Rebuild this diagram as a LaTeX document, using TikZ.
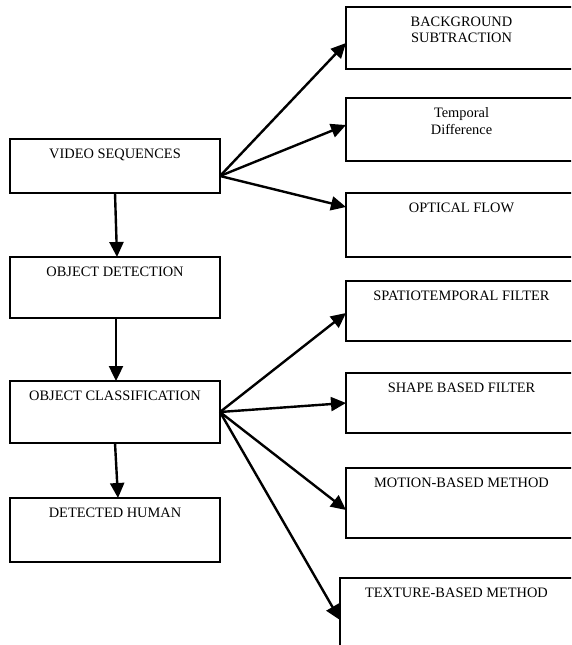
\documentclass[tikz,border=0pt]{standalone}
\usepackage{fontspec}
\setmainfont{Liberation Serif}
\usetikzlibrary{arrows.meta}
\begin{document}
\begin{tikzpicture}[x=1pt,y=-1pt,
  box/.style={draw, line width=1.8pt, inner sep=0pt, outer sep=0pt, anchor=north west},
  leftbox/.style={box, minimum width=210pt},
  rightbox/.style={box, minimum width=231pt},
  lbl/.style={anchor=north, inner sep=0pt, yshift=-9.5pt, align=center,
    font=\fontsize{14.4}{16.5}\selectfont},
  arr/.style={line width=2.4pt, -{Triangle[length=15pt,width=14pt]}}]
\useasboundingbox (0,0) rectangle (571,645);
\clip (0,0) rectangle (571,645);

% main chain on the left
\node[leftbox, minimum height=54pt, label={[lbl]north:VIDEO SEQUENCES}] (vs) at (10,139) {};
\node[leftbox, minimum height=61pt, label={[lbl]north:OBJECT DETECTION}] (od) at (10,257) {};
\node[leftbox, minimum height=62pt, label={[lbl]north:OBJECT CLASSIFICATION}] (oc) at (10,381) {};
\node[leftbox, minimum height=64pt, label={[lbl]north:DETECTED HUMAN}] (dh) at (10,498) {};

% detection methods
\node[rightbox, minimum height=62pt, label={[lbl]north:BACKGROUND\\SUBTRACTION}] (bg) at (346,7) {};
\node[rightbox, minimum height=63pt, label={[lbl]north:Temporal\\Difference}] (td) at (346,98) {};
\node[rightbox, minimum height=64pt, label={[lbl]north:OPTICAL FLOW}] (of) at (346,193) {};

% classification methods
\node[rightbox, minimum height=60pt, label={[lbl]north:SPATIOTEMPORAL FILTER}] (st) at (346,281) {};
\node[rightbox, minimum height=60pt, label={[lbl]north:SHAPE BASED FILTER}] (sb) at (346,373) {};
\node[rightbox, minimum height=70pt, label={[lbl]north:MOTION-BASED METHOD}] (mb) at (346,468) {};
\node[box, minimum width=233pt, minimum height=70pt, label={[lbl]north:TEXTURE-BASED METHOD}] (tx) at (340,578) {};

% connectors
\coordinate (vsout) at ([yshift=-10pt]vs.east);
\draw[arr] (vs.south) -- ([xshift=2pt]od.north);
\draw[arr] ([xshift=1pt]od.south) -- ([xshift=1pt]oc.north);
\draw[arr] (oc.south) -- ([xshift=3pt]dh.north);

\draw[arr] (vsout) -- ([yshift=-5pt]bg.west);
\draw[arr] (vsout) -- ([yshift=4.5pt]td.west);
\draw[arr] (vsout) -- ([yshift=18pt]of.west);

\draw[arr] (oc.east) -- ([yshift=-2pt]st.west);
\draw[arr] (oc.east) -- (sb.west);
\draw[arr] (oc.east) -- ([yshift=-7pt]mb.west);
\draw[arr] (oc.east) -- ([yshift=-7pt]tx.west);
\end{tikzpicture}
\end{document}
